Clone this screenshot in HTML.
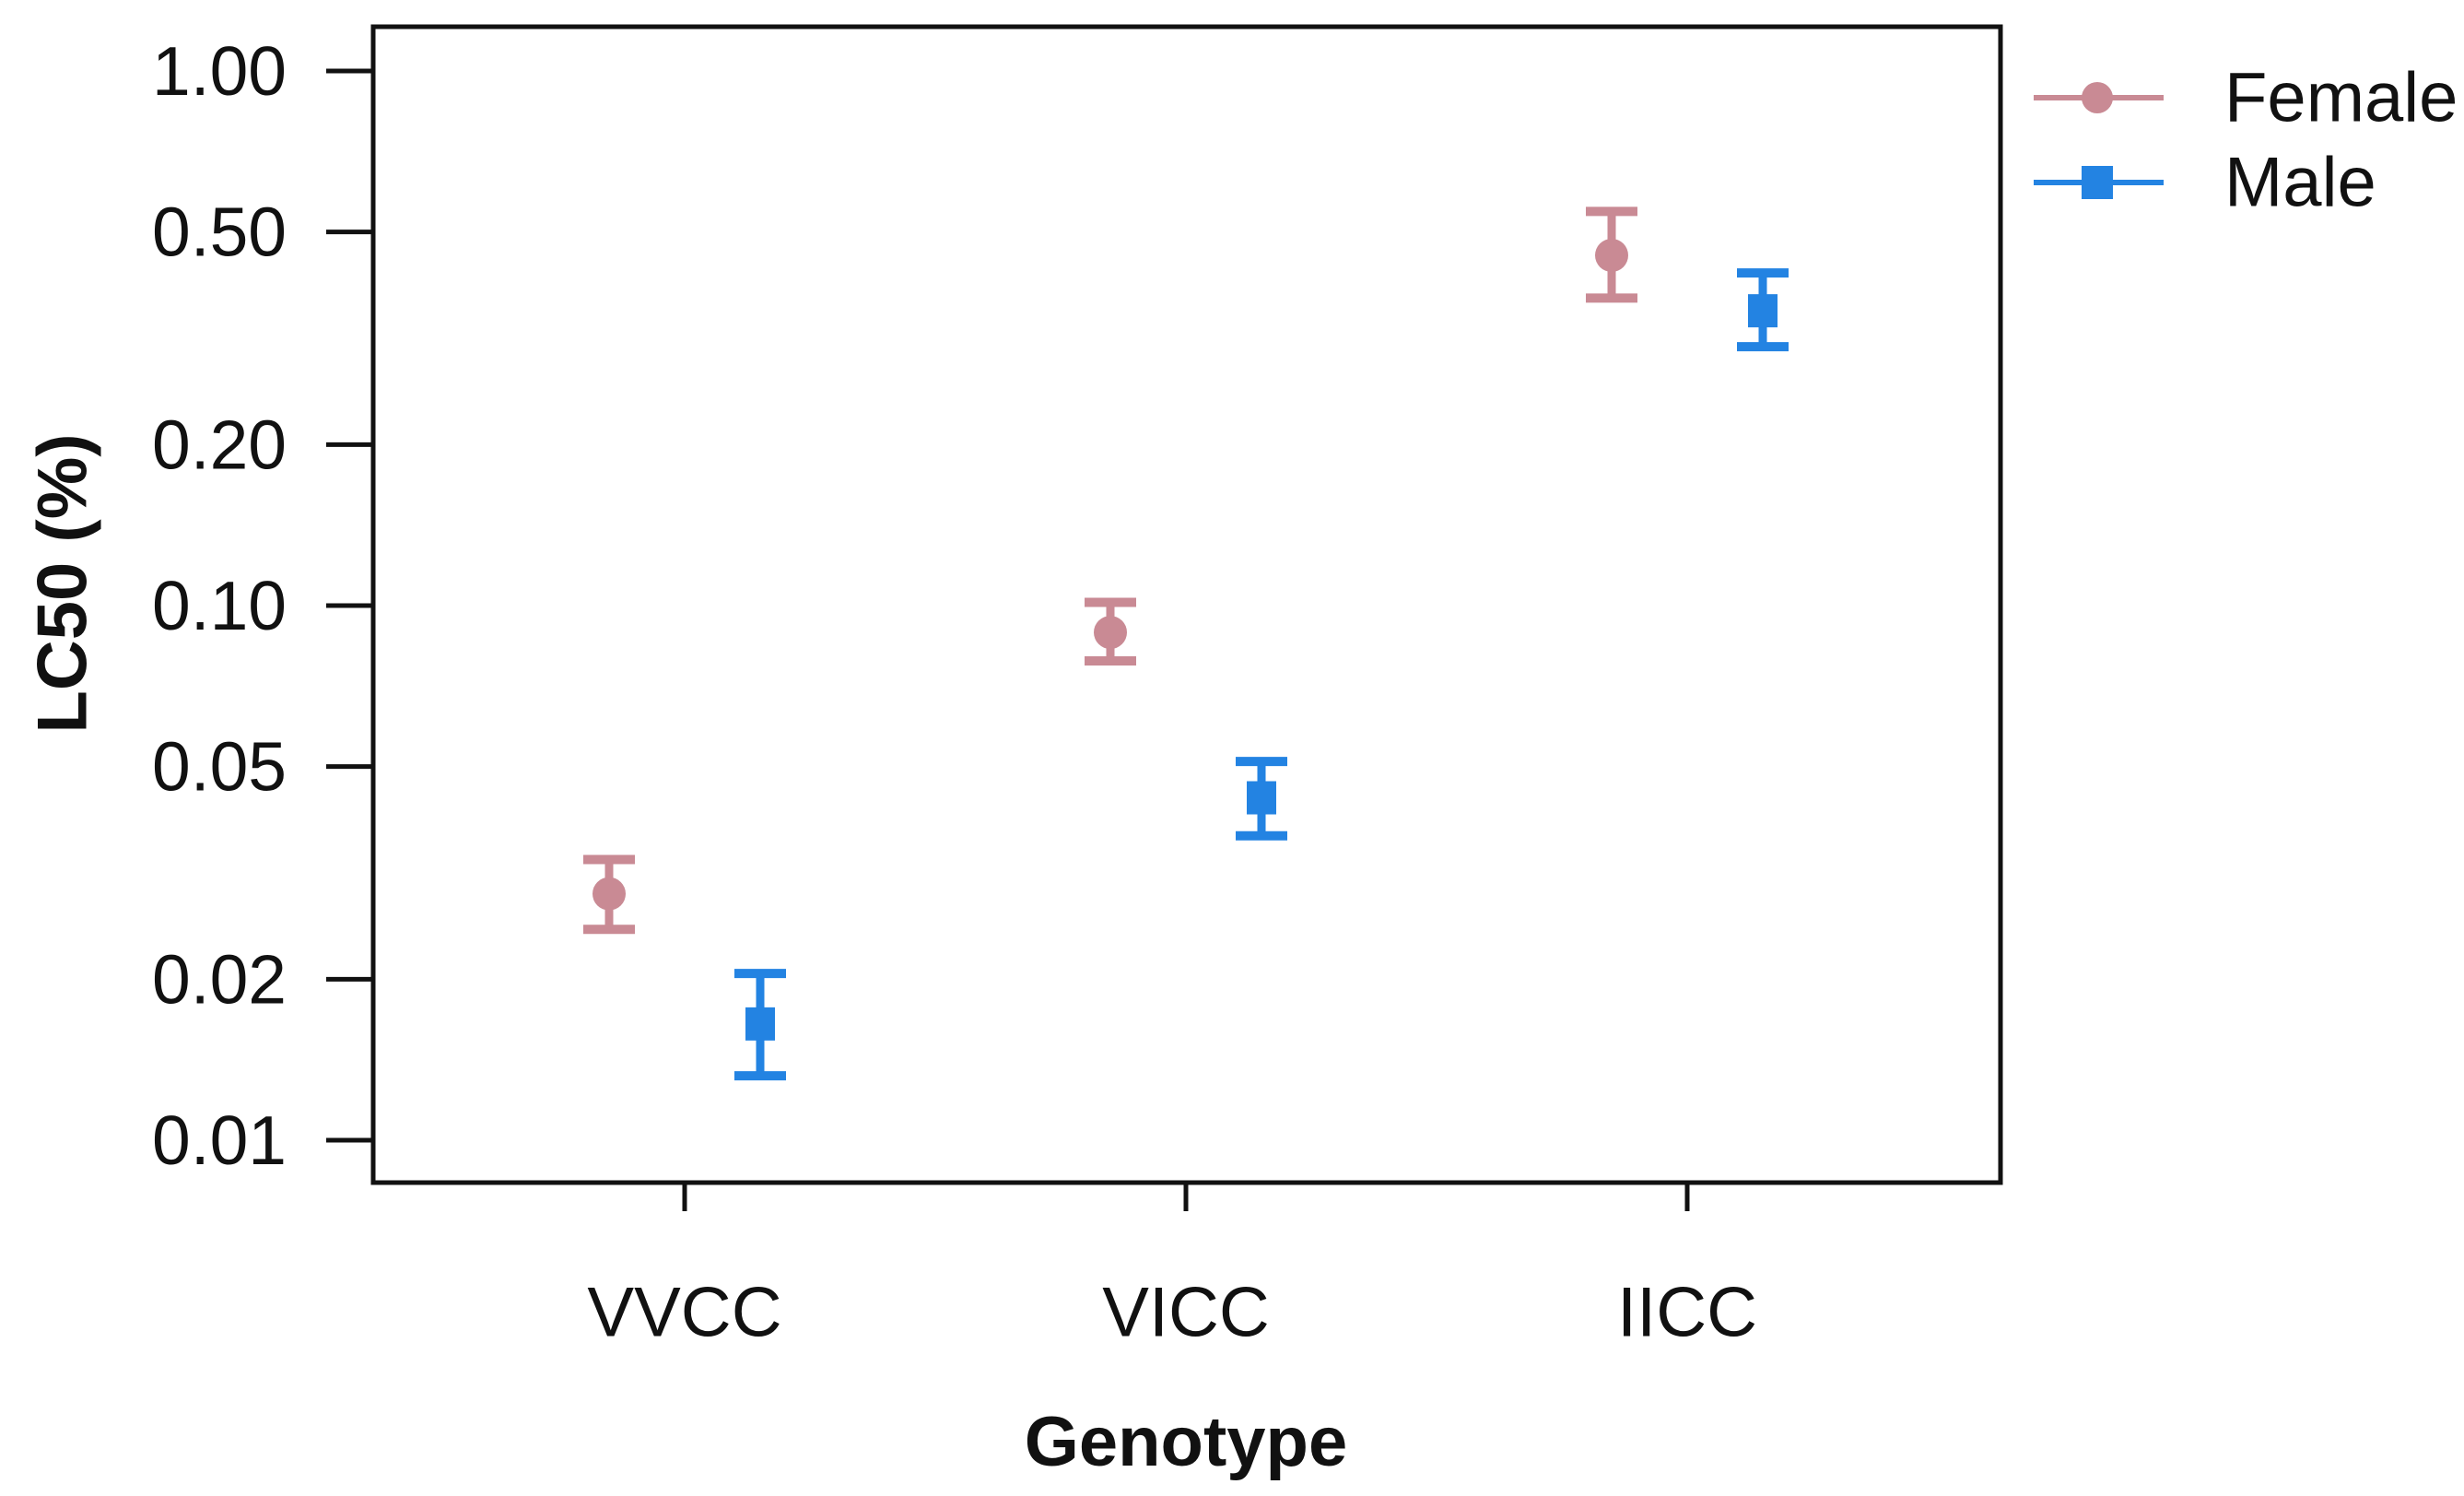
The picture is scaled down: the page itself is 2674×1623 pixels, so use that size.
<!DOCTYPE html>
<html><head><meta charset="utf-8"><style>
html,body{margin:0;padding:0;background:#fff}
svg{display:block;font-family:"Liberation Sans",Arial,sans-serif}
</style></head><body>
<svg id="chart" width="2674" height="1623" viewBox="0 0 2674 1623" xmlns="http://www.w3.org/2000/svg">
<rect x="405" y="29" width="1766" height="1254" fill="none" stroke="#111" stroke-width="5"/>
<g id="yaxis"></g>
<g id="xaxis"></g>
<g id="marks"></g>
<text x="68" y="633" transform="rotate(-90 68 633)" text-anchor="middle" dominant-baseline="central" font-size="76" font-weight="bold" fill="#111">LC50 (%)</text>
<text x="1287" y="1590" text-anchor="middle" font-size="76" font-weight="bold" fill="#111">Genotype</text>
<g>
 <g>
  <line x1="2207" y1="106" x2="2348" y2="106" stroke="#c98a94" stroke-width="6"/>
  <circle cx="2276" cy="106" r="17" fill="#c98a94"/>
  <text x="2414" y="106" dominant-baseline="central" font-size="76" fill="#111">Female</text>
 </g>
 <g>
  <line x1="2207" y1="198" x2="2348" y2="198" stroke="#2383e2" stroke-width="6"/>
  <rect x="2259" y="180" width="34" height="36" fill="#2383e2"/>
  <text x="2414" y="198" dominant-baseline="central" font-size="76" fill="#111">Male</text>
 </g>
</g>
</svg>
<script>
const categories = ["VVCC","VICC","IICC"];
const yTicks = [1.00,0.50,0.20,0.10,0.05,0.02,0.01];
const yTickLabels = ["1.00","0.50","0.20","0.10","0.05","0.02","0.01"];
const femaleValues = [0.0289,0.0891,0.452];
const femaleLower = [0.0248,0.0788,0.376];
const femaleUpper = [0.0335,0.1014,0.546];
const maleValues = [0.0165,0.0437,0.356];
const maleLower = [0.0132,0.0371,0.305];
const maleUpper = [0.0205,0.0511,0.419];

const NS="http://www.w3.org/2000/svg";
function y(v){return 77 + (-Math.log10(v))*580;}
function x(i){return 743 + i*544;}
function mk(tag,attrs,parent){const e=document.createElementNS(NS,tag);for(const k in attrs)e.setAttribute(k,attrs[k]);parent.appendChild(e);return e;}
const ya=document.getElementById('yaxis'),xa=document.getElementById('xaxis'),mg=document.getElementById('marks');
yTicks.forEach((t,i)=>{
  const l=mk('line',{x1:354,x2:405,y1:y(t),y2:y(t),stroke:'#111','stroke-width':5},ya);
  
  
  const tx=mk('text',{x:311,y:y(t),'text-anchor':'end','dominant-baseline':'central','font-size':75,fill:'#111'},ya);
  tx.textContent=yTickLabels[i];
  
  
});
categories.forEach((c,i)=>{
  const l=mk('line',{x1:x(i),x2:x(i),y1:1283,y2:1314,stroke:'#111','stroke-width':5},xa);
  
  
  const tx=mk('text',{x:x(i),y:1424,'text-anchor':'middle','dominant-baseline':'central','font-size':76,fill:'#111'},xa);
  tx.textContent=c;
  
  
});
function series(vals,lo,hi,off,color,shape,name){
  vals.forEach((v,i)=>{
    const cx=x(i)+off;
    const g=mk('g',{},mg);
    
    
    mk('line',{x1:cx,x2:cx,y1:y(hi[i]),y2:y(lo[i]),stroke:color,'stroke-width':9},g);
    mk('line',{x1:cx-28,x2:cx+28,y1:y(hi[i]),y2:y(hi[i]),stroke:color,'stroke-width':10},g);
    mk('line',{x1:cx-28,x2:cx+28,y1:y(lo[i]),y2:y(lo[i]),stroke:color,'stroke-width':10},g);
    if(shape==='circle') mk('circle',{cx:cx,cy:y(v),r:18,fill:color},g);
    else mk('rect',{x:cx-16,y:y(v)-18,width:32,height:36,fill:color},g);
  });
}
series(femaleValues,femaleLower,femaleUpper,-82,'#c98a94','circle','female-point');
series(maleValues,maleLower,maleUpper,82,'#2383e2','square','male-point');
</script>
</body></html>
